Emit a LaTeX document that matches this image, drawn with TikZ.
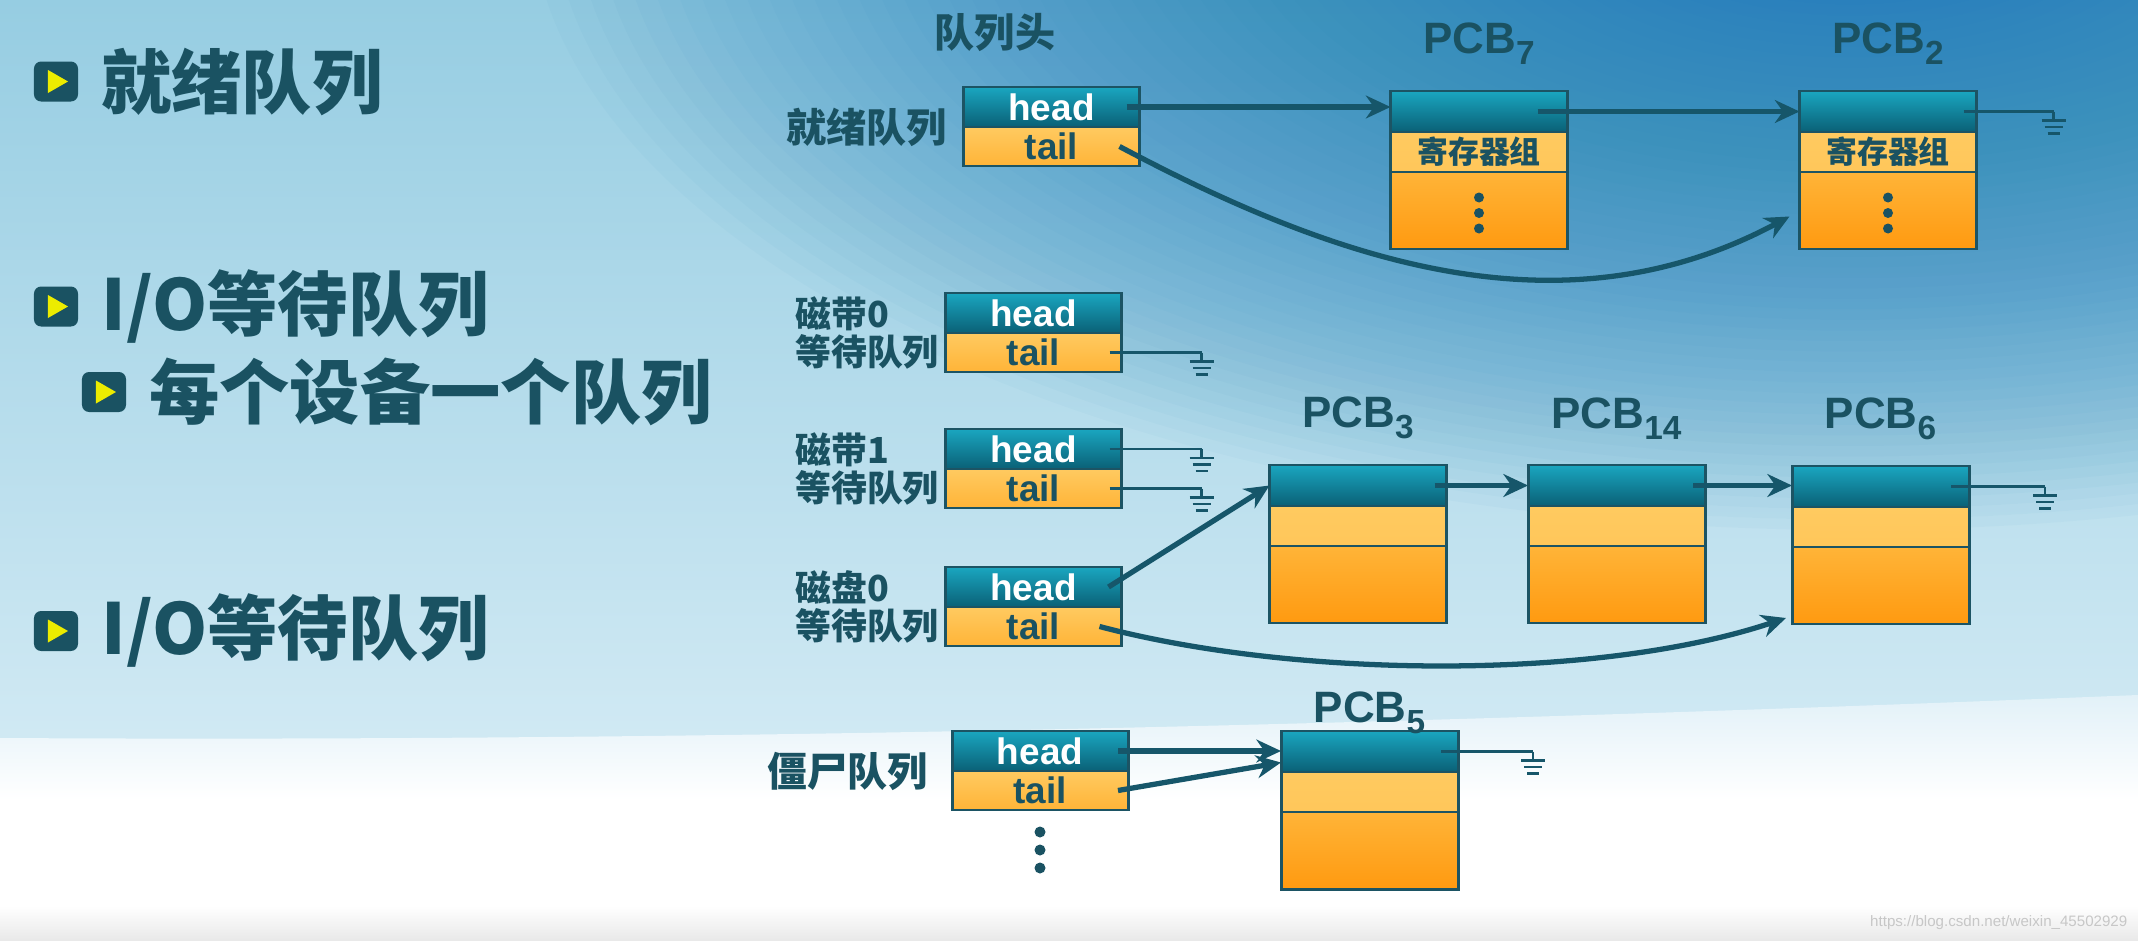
\documentclass[tikz,border=0pt]{standalone}
\usepackage{fontspec}
\setmainfont{Liberation Sans}
\newfontfamily\cjk{Noto Sans CJK SC}
\usetikzlibrary{positioning,arrows.meta}

\definecolor{ink}{RGB}{26,82,98}
\definecolor{wirec}{RGB}{22,86,106}
\definecolor{boxline}{RGB}{28,84,100}
\definecolor{headtop}{RGB}{26,166,192}
\definecolor{headbot}{RGB}{10,96,118}
\definecolor{orglt}{RGB}{255,202,96}
\definecolor{orgmid}{RGB}{255,180,56}
\definecolor{orgdk}{RGB}{255,154,16}
\definecolor{tricol}{RGB}{236,236,0}
\definecolor{bgtop}{RGB}{150,205,226}
\definecolor{bgbot}{RGB}{210,234,244}
\definecolor{bgdark}{RGB}{30,128,188}
\definecolor{bglow}{RGB}{226,241,248}
\definecolor{stripc}{RGB}{232,232,232}

\newcommand\pcbname[1]{PCB\raisebox{-0.5ex}{\fontsize{9.5}{10}\selectfont #1}}

\tikzset{
  cell/.style={rectangle, draw=boxline, line width=0.85pt, inner sep=0pt, outer sep=0pt},
  hcell/.style={cell, minimum width=1.76cm, minimum height=0.40cm, top color=headtop, bottom color=headbot,
    text=white, font=\bfseries\fontsize{10.5}{10}\selectfont},
  tcell/.style={cell, minimum width=1.76cm, minimum height=0.39cm, top color=orglt, bottom color=orgmid,
    text=ink, font=\bfseries\fontsize{10.5}{10}\selectfont},
  pcbh/.style={cell, minimum width=1.77cm, minimum height=0.41cm, top color=headtop, bottom color=headbot},
  pcbm/.style={cell, minimum width=1.77cm, minimum height=0.40cm, top color=orglt, bottom color=orglt!85!orgmid},
  pcbb/.style={cell, minimum width=1.77cm, minimum height=0.77cm, top color=orgmid, bottom color=orgdk},
  pcblbl/.style={text=ink, inner sep=0pt, font=\bfseries\fontsize{12.5}{13}\selectfont},
  regtxt/.style={text=ink, inner sep=0pt, font=\cjk\bfseries\fontsize{8.8}{9}\selectfont},
  qlbl/.style={text=ink, inner sep=0pt, font=\cjk\bfseries\fontsize{11.4}{12}\selectfont},
  devlbl/.style={text=ink, inner sep=0pt, align=left, font=\cjk\bfseries\fontsize{10.2}{9}\selectfont},
  item/.style={text=ink, inner sep=0pt, font=\cjk\bfseries\fontsize{20}{24}\selectfont},
  bullet/.style={rectangle, fill=ink, rounded corners=2pt, minimum width=0.44cm, minimum height=0.40cm, inner sep=0pt},
  ptr/.style={->, wirec, line width=1.5pt},
  wire/.style={wirec, line width=0.8pt},
  gnd/.pic={\draw[wire] (0,0) -- (0,-0.09) (-0.12,-0.09) -- (0.12,-0.09)
    (-0.09,-0.155) -- (0.09,-0.155) (-0.06,-0.22) -- (0.06,-0.22);}
}

\begin{document}
\begin{tikzpicture}[>={Stealth[length=7pt,width=6.5pt]}]
  \useasboundingbox (0,0) rectangle (21.38,-9.41);
  \begin{scope}
    \clip (0,0) rectangle (21.38,-9.41);
    \shade[top color=bgtop, bottom color=bgbot] (0,0) rectangle (21.38,-7.6);
    \foreach \k in {1,...,60}
      \fill[bgdark, opacity=0.03] (18.5,1) ellipse ({0.22*\k} and {0.105*\k});
    \shade[top color=bglow, bottom color=white] (0,-7.38) .. controls (7,-7.42) and (14,-7.25) .. (21.38,-6.95)
      -- (21.38,-8.0) -- (0,-8.0) -- cycle;
    \fill[white] (0,-8.0) rectangle (21.38,-9.06);
    \shade[top color=white, bottom color=stripc] (0,-9.06) rectangle (21.38,-9.41);
  \end{scope}

  \foreach \n/\x/\y in {b1/0.56/-0.815, b2/0.56/-3.065, b3/1.04/-3.92, b4/0.56/-6.31} {
    \node[bullet] (\n) at (\x,\y) {};
    \fill[tricol] ([shift={(-0.08,0.115)}]\n.center) -- ++(0.2,-0.115) -- ++(-0.2,-0.115) -- cycle;
  }
  \node[item, right=0.22cm of b1] (t1) {就绪队列};
  \node[item, right=0.22cm of b2] (t2) {I/O等待队列};
  \node[item, right=0.22cm of b3] (t3) {每个设备一个队列};
  \node[item, right=0.22cm of b4] (t4) {I/O等待队列};

  \foreach \q/\x/\y in {rdy/10.515/-0.87, tp0/10.335/-2.93, tp1/10.335/-4.29, dk0/10.335/-5.67, zmb/10.40/-7.31} {
    \node[hcell, anchor=north] (\q h) at (\x,\y) {head};
    \node[tcell, below=0pt of \q h] (\q t) {tail};
  }
  \node[qlbl] (qhead) at (9.95,-0.33) {队列头};
  \node[qlbl, left=0.16cm of rdyh.south west] (rdyl) {就绪队列};
  \node[devlbl, left=0.06cm of tp0h.south west] (tp0l) {磁带0\\等待队列};
  \node[devlbl, left=0.06cm of tp1h.south west] (tp1l) {磁带1\\等待队列};
  \node[devlbl, left=0.06cm of dk0h.south west] (dk0l) {磁盘0\\等待队列};
  \node[qlbl, left=0.24cm of zmbh.south west] (zmbl) {僵尸队列};
  \foreach \d in {0.22,0.40,0.58}
    \fill[ink] ([yshift=-\d cm]zmbt.south) circle (0.055);

  \foreach \n/\x/\y/\lift in {7/14.79/-0.91/0.38, 2/18.88/-0.91/0.38, 3/13.58/-4.65/0.38,
      14/16.165/-4.65/0.37, 6/18.805/-4.66/0.38, 5/13.695/-7.31/0.09} {
    \node[pcbh, anchor=north] (p\n h) at (\x,\y) {};
    \node[pcbm, below=0pt of p\n h] (p\n m) {};
    \node[pcbb, below=0pt of p\n m] (p\n b) {};
    \node[pcblbl, anchor=base] (p\n l) at ([yshift=\lift cm]p\n h.north) {\pcbname{\n}};
  }
  \foreach \n in {7,2} {
    \node[regtxt] (r\n) at (p\n m) {寄存器组};
    \foreach \d in {0.13,-0.025,-0.18}
      \fill[ink] ([yshift=\d cm]p\n b.center) circle (0.05);
  }

  \draw[ptr] ([xshift=-0.13cm]rdyh.east) -- (rdyh.east -| p7h.west);
  \draw[ptr] ([xshift=-0.3cm]p7h.east) -- (p2h.west);
  \draw[ptr] ([xshift=-0.2cm]rdyt.east) .. controls +(2.13,-1.13) and +(-2.30,-1.23) .. ([shift={(-0.1,-0.06)}]p2b.west);
  \draw[wire] ([xshift=-0.13cm]p2h.east) -- ++(0.9,0) coordinate (g2) pic {gnd};

  \draw[wire] ([xshift=-0.12cm]tp0t.east) -- ++(0.92,0) coordinate (g3) pic {gnd};
  \draw[wire] ([xshift=-0.12cm]tp1h.east) -- ++(0.92,0) coordinate (g4) pic {gnd};
  \draw[wire] ([xshift=-0.12cm]tp1t.east) -- ++(0.92,0) coordinate (g5) pic {gnd};
  \draw[ptr] ([xshift=-0.13cm]dk0h.east) -- (p3h.west);
  \draw[ptr] ([xshift=-0.12cm]p3h.east) -- (p14h.west);
  \draw[ptr] ([xshift=-0.12cm]p14h.east) -- (p14h.east -| p6h.west);
  \draw[wire] ([xshift=-0.18cm]p6h.east) -- ++(0.94,0) coordinate (g6) pic {gnd};
  \draw[ptr] ([xshift=-0.22cm]dk0t.east) .. controls +(2.01,-0.53) and +(-1.86,-0.62) .. ([shift={(-0.06,0.06)}]p6b.south west);

  \draw[ptr] ([xshift=-0.1cm]zmbh.east) -- (zmbh.east -| p5h.west);
  \draw[ptr] ([xshift=-0.1cm]zmbt.east) -- ([yshift=-0.11cm]p5h.west);
  \draw[wire] ([xshift=-0.17cm]p5h.east) -- ++(0.92,0) coordinate (g7) pic {gnd};

  \node[anchor=east, inner sep=0pt, text=black!22, font=\fontsize{4.3}{5}\selectfont] (wmark) at (21.28,-9.225) {https://blog.csdn.net/weixin\_45502929};
\end{tikzpicture}
\end{document}
